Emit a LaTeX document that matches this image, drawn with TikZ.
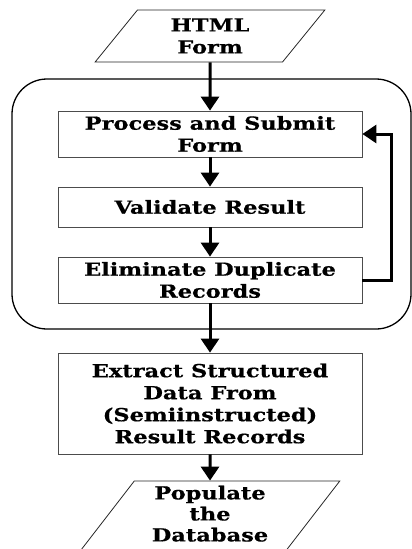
\documentclass[tikz,border=0pt]{standalone}
\usepackage{fontspec}
\setmainfont{DejaVu Serif}[FakeStretch=1.25, BoldFeatures={FakeBold=0.6}]
\usetikzlibrary{shapes.geometric,arrows.meta}
\begin{document}
\begin{tikzpicture}[x=1pt,y=-1pt,
  lbl/.style={font=\bfseries\fontsize{18}{22}\selectfont, align=center},
  procbox/.style={lbl, draw=black!70, line width=0.8pt, minimum width=304pt, inner sep=0pt},
  iobox/.style={lbl, draw=black!85, line width=0.8pt, trapezium, trapezium left angle=57, trapezium right angle=123, trapezium stretches=true, inner sep=0pt},
  arr/.style={line width=3pt, -{Triangle[width=18pt,length=14pt]}},
  loopbox/.style={draw=black, line width=1.3pt, rounded corners=35pt}]
\useasboundingbox (0,0) rectangle (412,549);
\clip (0,0) rectangle (412,549);
\node[loopbox, minimum width=399pt, minimum height=250pt, inner sep=0pt] (loop) at (211.5,204) {};
\node[iobox, minimum width=230pt, minimum height=52pt] (html) at (210,36) {HTML\\Form};
\node[procbox, minimum height=46pt] (proc) at (210,134) {Process and Submit\\Form};
\node[procbox, minimum height=40pt] (valid) at (210,207) {Validate Result};
\node[procbox, minimum height=46pt] (elim) at (210,280) {Eliminate Duplicate\\Records};
\node[procbox, minimum height=101pt] (extract) at (210,403.5) {Extract Structured\\Data From\\(Semiinstructed)\\Result Records};
\node[iobox, minimum width=260pt, minimum height=70pt] (pop) at (210,516) {\raisebox{6pt}{\begin{tabular}{@{}c@{}}Populate\\[-1pt]the\\[-1pt]Database\end{tabular}}};
\coordinate (fb) at (391.5,0);
\draw[arr] (html.south) -- (proc.north);
\draw[arr] (proc.south) -- (valid.north);
\draw[arr] (valid.south) -- (elim.north);
\draw[arr] (elim.south) -- (extract.north);
\draw[arr] (extract.south) -- (pop.north);
\draw[arr] (elim.east) -- (elim.east -| fb) |- (proc.east);
\end{tikzpicture}
\end{document}
